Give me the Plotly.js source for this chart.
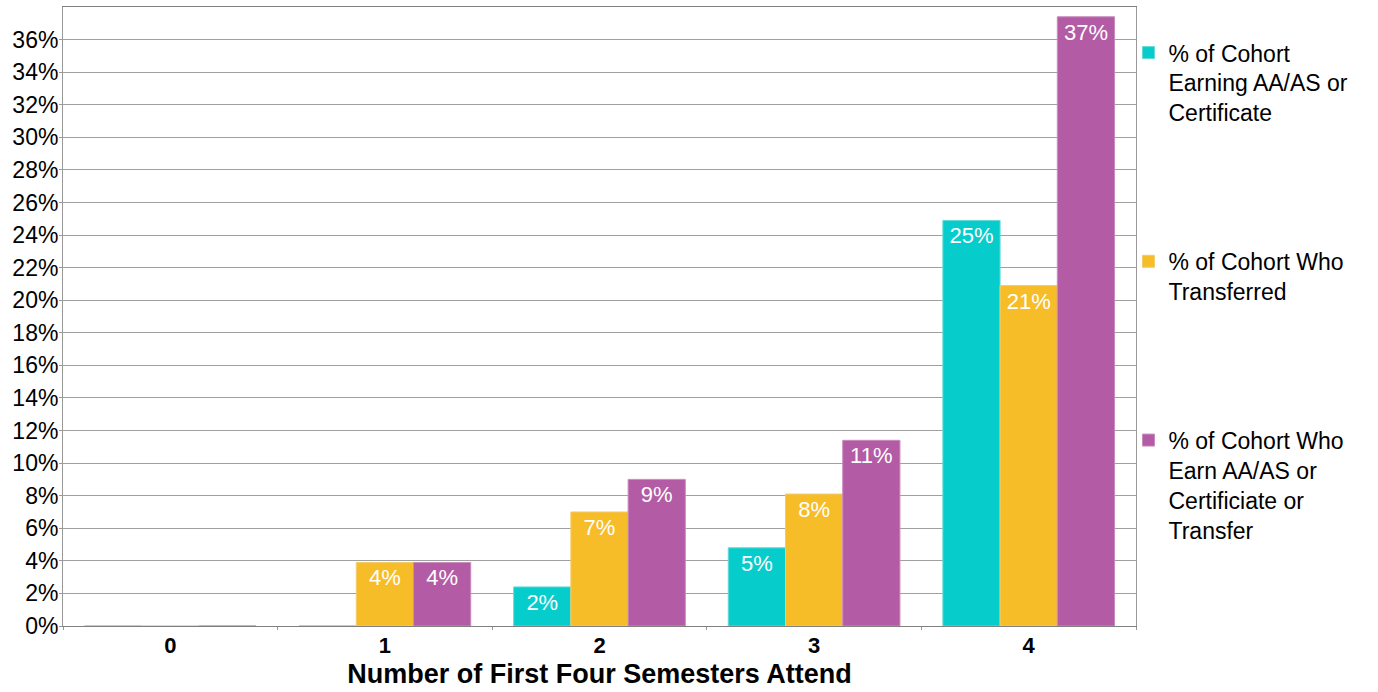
<!DOCTYPE html>
<html>
<head>
<meta charset="utf-8">
<script src="https://cdn.plot.ly/plotly-3.0.1.min.js"></script>
<style>html,body{margin:0;padding:0;background:#fff;}#chart{width:1378px;height:692px;}</style>
</head>
<body>
<div id="chart"></div>
<script>
const categories = ["0", "1", "2", "3", "4"];
const seriesNames = [
  "% of Cohort<br>Earning AA/AS or<br>Certificate",
  "% of Cohort Who<br>Transferred",
  "% of Cohort Who<br>Earn AA/AS or<br>Certificiate or<br>Transfer"
];
const earning = [0, 0, 2.4, 4.8, 24.9];
const transferred = [0, 3.9, 7.0, 8.1, 20.9];
const earnOrTransfer = [0, 3.9, 9.0, 11.4, 37.4];
const yTicks = [0,2,4,6,8,10,12,14,16,18,20,22,24,26,28,30,32,34,36];

const colors = ["#07CCCC", "#F7BD29", "#B45BA5"];
const lineColors = ["#66D9D9", "#F3CC6A", "#C88DBE"];
const font = "Liberation Sans, Arial, sans-serif";

function labels(vals){ return vals.map(v => v > 0 ? Math.round(v) + "%" : ""); }

const all = [earning, transferred, earnOrTransfer];
const data = all.map((vals, i) => ({
  type: "bar",
  x: categories,
  y: vals,
  name: seriesNames[i],
  legendgroup: "g" + i,
  text: labels(vals),
  textposition: "inside",
  insidetextanchor: "end",
  constraintext: "none",
  textfont: {family: font, size: 22, color: "#ffffff"},
  marker: {color: colors[i], line: {color: lineColors[i], width: 1}},
  hoverinfo: "x+y"
}));

const layout = {
  width: 1378, height: 692,
  margin: {l: 63, r: 242, t: 7, b: 66},
  paper_bgcolor: "#ffffff", plot_bgcolor: "#ffffff",
  barmode: "group", bargap: 0.2, bargroupgap: 0,
  font: {family: font, color: "#000"},
  xaxis: {
    type: "category",
    showline: true, linecolor: "#808080", linewidth: 1, mirror: true,
    ticks: "outside", tickson: "boundaries", ticklen: 3, tickcolor: "#999",
    tickfont: {family: font, size: 22, color: "#000", weight: "bold"},
    title: {text: "<b>Number of First Four Semesters Attend</b>", font: {family: font, size: 27, color: "#000"}, standoff: 6},
    showgrid: false
  },
  yaxis: {
    range: [0, 38],
    tickvals: yTicks,
    ticktext: yTicks.map(v => v + "%"),
    showline: true, linecolor: "#999", linewidth: 1, mirror: true,
    ticks: "outside", ticklen: 3, tickcolor: "#999",
    ticklabelstandoff: -4,
    tickfont: {family: font, size: 23, color: "#000"},
    gridcolor: "#A0A0A0", gridwidth: 1,
    zeroline: false
  },
  legend: {
    x: 0.993, xanchor: "left", y: 0.961, yanchor: "top",
    traceorder: "grouped", tracegroupgap: 116, valign: "top",
    font: {family: font, size: 23, color: "#000"},
    bgcolor: "rgba(0,0,0,0)"
  },
  showlegend: true
};

Plotly.newPlot("chart", data, layout, {displayModeBar: false, staticPlot: true});
</script>
</body>
</html>
